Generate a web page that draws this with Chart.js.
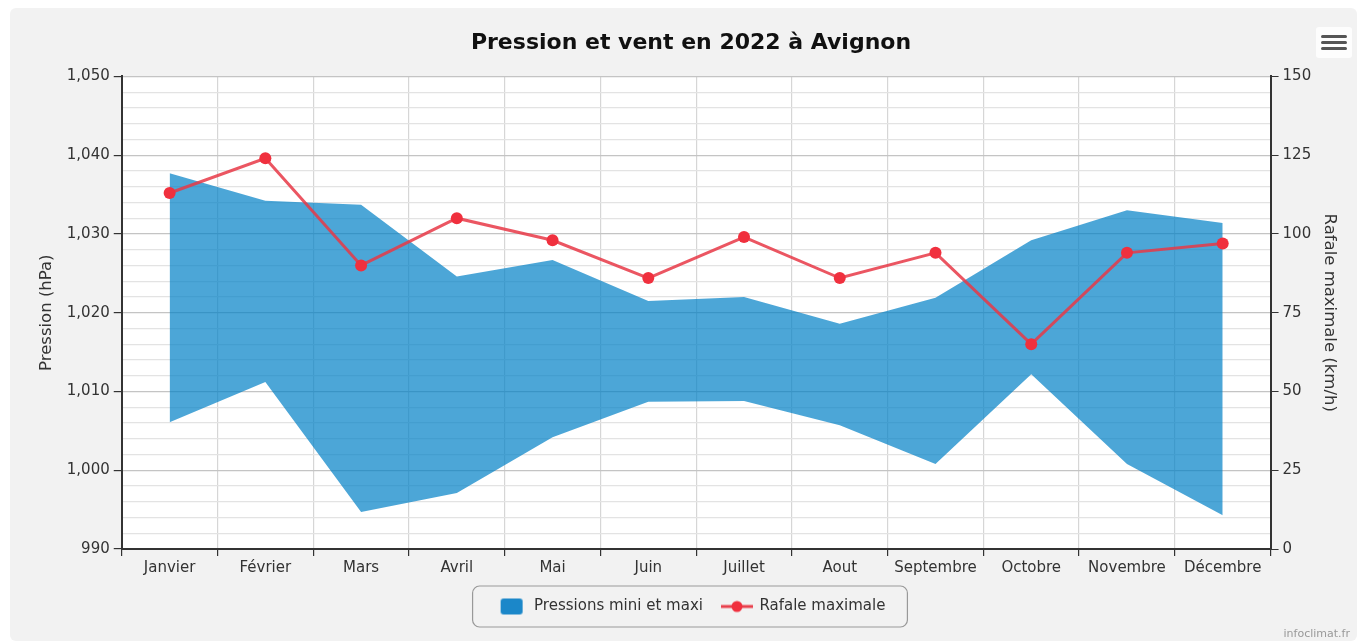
<!DOCTYPE html>
<html><head><meta charset="utf-8">
<script src="https://cdn.jsdelivr.net/npm/chart.js@4"></script>
<style>html,body{margin:0;padding:0;background:#fff}#wrap{width:1357px;height:641px}</style>
</head><body><div id="wrap"><canvas id="c" width="1357" height="641"></canvas></div>
<script>
const months = ["Janvier","Février","Mars","Avril","Mai","Juin","Juillet","Aout","Septembre","Octobre","Novembre","Décembre"];
const pressionMax = [1037.7,1034.2,1033.7,1024.6,1026.7,1021.5,1022.0,1018.6,1021.9,1029.2,1033.0,1031.4];
const pressionMin = [1006.1,1011.2,994.7,997.1,1004.2,1008.7,1008.8,1005.7,1000.8,1012.2,1000.8,994.3];
const rafaleMax = [113,124,90,105,98,86,99,86,94,65,94,97];
const pressionTicks = [990,1000,1010,1020,1030,1040,1050];
const rafaleTicks = [0,25,50,75,100,125,150];

const FONT = "'DejaVu Sans', sans-serif";
const TXT = '#333';

function mkAreaIcon(){const c=document.createElement('canvas');c.width=24;c.height=18;const x=c.getContext('2d');x.fillStyle='#1b87c9';x.beginPath();x.roundRect(1,1,22,16,3);x.fill();return c;}
function mkLineIcon(){const c=document.createElement('canvas');c.width=32;c.height=14;const x=c.getContext('2d');x.strokeStyle='#e8404c';x.lineWidth=3;x.beginPath();x.moveTo(0,7);x.lineTo(32,7);x.stroke();x.fillStyle='#f0303e';x.beginPath();x.arc(16,7,5.5,0,Math.PI*2);x.fill();return c;}
const areaIcon = mkAreaIcon(), lineIcon = mkLineIcon();

const deco = {
  id:'deco',
  beforeDraw(chart){
    const {ctx, chartArea:a} = chart;
    ctx.save();
    ctx.fillStyle='#fff';ctx.fillRect(0,0,chart.width,chart.height);
    ctx.fillStyle='#f2f2f2';ctx.beginPath();ctx.roundRect(10,8,chart.width-10,chart.height-8,6);ctx.fill();
    ctx.fillStyle='#fff';ctx.fillRect(a.left,a.top,a.right-a.left,a.bottom-a.top);
    ctx.restore();
  },
  afterDraw(chart){
    const ctx = chart.ctx;
    ctx.save();
    const hb = chart.legend.legendHitBoxes;
    if(hb && hb.length){
      let l=Infinity,r=-Infinity,t=Infinity,b=-Infinity;
      hb.forEach(h=>{l=Math.min(l,h.left);r=Math.max(r,h.left+h.width);t=Math.min(t,h.top);b=Math.max(b,h.top+h.height);});
      ctx.strokeStyle='#999';ctx.lineWidth=1.2;
      ctx.beginPath();ctx.roundRect(l-24,t-13,r-l+46,b-t+26,7);ctx.stroke();
    }
    ctx.fillStyle='#fdfdfd';ctx.strokeStyle='#e0e0e0';ctx.lineWidth=1;
    ctx.beginPath();ctx.roundRect(1316,27,36,31,3);ctx.fill();
    ctx.fillStyle='#555';
    for(let i=0;i<3;i++){ctx.beginPath();ctx.roundRect(1321,35+i*6,26,3,1.5);ctx.fill();}
    ctx.fillStyle='#999';ctx.font="11px "+FONT;ctx.textAlign='right';ctx.textBaseline='alphabetic';
    ctx.fillText('infoclimat.fr',1350,637);
    ctx.restore();
  }
};

new Chart(document.getElementById('c'),{
  type:'line',
  data:{labels:months,datasets:[
    {label:'Pressions mini et maxi',data:pressionMax,yAxisID:'y',borderWidth:0,pointRadius:0,fill:'+1',backgroundColor:'rgba(0,128,198,0.70)',borderColor:'rgba(0,128,198,0.70)',tension:0,order:2},
    {label:'_min',data:pressionMin,yAxisID:'y',borderWidth:0,pointRadius:0,fill:false,backgroundColor:'rgba(0,128,198,0.70)',borderColor:'rgba(0,128,198,0.70)',tension:0,order:2},
    {label:'Rafale maximale',data:rafaleMax,yAxisID:'y1',borderColor:'rgba(232,56,70,0.85)',backgroundColor:'#f0303e',borderWidth:3,pointRadius:6,pointBackgroundColor:'#f0303e',pointBorderWidth:0,tension:0,order:1}
  ]},
  options:{
    responsive:false,animation:false,
    layout:{padding:{left:33,right:8,top:6,bottom:17}},
    plugins:{
      title:{display:true,text:'Pression et vent en 2022 à Avignon',color:'#111',font:{family:FONT,size:22,weight:'bold'},padding:{top:24,bottom:20}},
      tooltip:{enabled:false},
      legend:{position:'bottom',labels:{
        color:TXT,font:{family:FONT,size:15},usePointStyle:true,pointStyleWidth:30,padding:19,
        generateLabels(chart){return [
          {text:'Pressions mini et maxi',pointStyle:areaIcon,fillStyle:'#1b87c9',strokeStyle:'#1b87c9',lineWidth:0,datasetIndex:0,fontColor:TXT},
          {text:'Rafale maximale',pointStyle:lineIcon,fillStyle:'#f0303e',strokeStyle:'#f0303e',lineWidth:0,datasetIndex:2,fontColor:TXT}
        ];}
      }}
    },
    scales:{
      x:{offset:true,
        grid:{offset:true,color:'#d6d6d6',lineWidth:1.2,tickColor:'#333',tickLength:7},
        border:{color:'#333',width:2},
        ticks:{color:TXT,font:{family:FONT,size:15},padding:3,maxRotation:0,autoSkip:false}},
      y:{position:'left',min:990,max:1050,
        ticks:{stepSize:2,color:TXT,font:{family:FONT,size:15},padding:4,autoSkip:false,
          callback:v=> (pressionTicks.includes(v) ? Number(v).toLocaleString('en-US') : '')},
        grid:{color:c=> (c.tick && pressionTicks.includes(c.tick.value)) ? '#c4c4c4' : '#e3e3e3',lineWidth:1.2,
          tickColor:c=> (c.tick && pressionTicks.includes(c.tick.value)) ? '#333' : 'rgba(0,0,0,0)',tickLength:8},
        border:{color:'#333',width:2},
        title:{display:true,text:'Pression (hPa)',color:TXT,font:{family:FONT,size:16.5},padding:{bottom:6}}},
      y1:{position:'right',min:0,max:150,
        ticks:{stepSize:25,color:TXT,font:{family:FONT,size:15},padding:4},
        afterBuildTicks(ax){ax.ticks = rafaleTicks.map(v=>({value:v}));},
        grid:{drawOnChartArea:false,tickColor:'#333',tickLength:8},
        border:{color:'#333',width:2},
        title:{display:true,text:'Rafale maximale (km/h)',color:TXT,font:{family:FONT,size:16.5},padding:{top:10}}}
    }
  },
  plugins:[deco]
});
</script></body></html>
